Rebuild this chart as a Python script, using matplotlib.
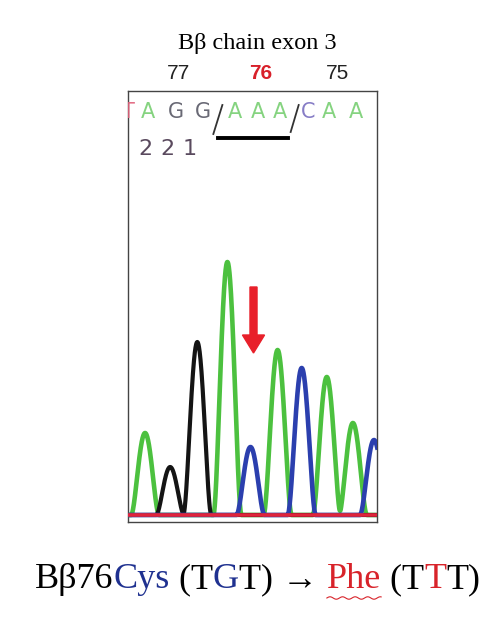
import numpy as np
import matplotlib
matplotlib.use("Agg")
import matplotlib.pyplot as plt

# ---- chromatogram data (scan units, intensity) ----
green_pos = [17, 99, 149, 198, 224]
green_amp = [82, 253, 165, 138, 92]
black_pos = [42, 69]
black_amp = [48, 173]
blue_pos = [122, 173, 245]
blue_amp = [68, 147, 75]

bases = "TAGGAAACAA"
base_pos = [0, 20, 48, 75, 107, 129, 151, 179, 200, 227]
base_col = {"T": "#e0607a", "A": "#78cf72", "G": "#595966", "C": "#7a6fc0"}

codon_labels = ["77", "76", "75"]
codon_x = [50, 132, 209]
codon_col = ["#222222", "#d8202a", "#222222"]

scan = np.linspace(0, 250, 1500)


def trace(pos, amp, half=14.0):
    # compact bell-shaped peaks, closer to the triangular look of the trace
    y = np.zeros_like(scan)
    for p, a in zip(pos, amp):
        u = np.clip(1 - ((scan - p) / half) ** 2, 0, None)
        y += a * u ** 2
    return y


fig = plt.figure(figsize=(4.99, 6.21), dpi=100)
ax = fig.add_axes([128 / 499, 1 - 522 / 621, 249 / 499, 431 / 621])
ax.set_xlim(0, 248)
ax.set_ylim(-7, 424)
ax.set_xticks([])
ax.set_yticks([])
for s in ax.spines.values():
    s.set_color("#444444")
    s.set_linewidth(1.0)

# traces, T channel (flat) on top as in the reference
ax.plot(scan, trace(green_pos, green_amp), color="#4cc13f", lw=3.3, zorder=3)
ax.plot(scan, trace(black_pos, black_amp), color="#141414", lw=3.0, zorder=4)
ax.plot(scan, trace(blue_pos, blue_amp), color="#2b3fae", lw=3.3, zorder=4)
ax.plot(scan, np.zeros_like(scan), color="#e0243a", lw=2.6, zorder=5)

# mutation arrow
ax.arrow(125, 228, 0, -66, width=7, head_width=22, head_length=18,
         length_includes_head=True, color="#e8202a", zorder=6)

# base calls
for b, x in zip(bases, base_pos):
    ax.text(x, 403, b, color=base_col[b], fontsize=15, family="DejaVu Sans",
            ha="center", va="center", alpha=0.9, clip_on=True)
ax.plot([85, 94], [381, 410], color="#333333", lw=1.3)
ax.plot([162, 170], [383, 410], color="#333333", lw=1.3)
ax.plot([90, 159], [377, 377], color="black", lw=2.8)
for i, ch in enumerate("221"):
    ax.text(17 + i * 22, 366, ch, color="#5a4a5e", fontsize=16,
            family="DejaVu Sans", ha="center", va="center")

# codon numbers above the box
for lab, x, c in zip(codon_labels, codon_x, codon_col):
    ax.text(x, 432, lab, color=c, fontsize=15, family="Liberation Sans",
            ha="center", va="bottom", fontweight="bold" if lab == "76" else "normal",
            clip_on=False)

fig.text(257 / 499, 1 - 49 / 621, "B\u03b2 chain exon 3", fontsize=17.5,
         family=["Liberation Serif", "DejaVu Serif"], ha="center", va="baseline")

# mutation caption, built piece by piece
pieces = [("B\u03b276", "black"), ("Cys", "#1f3190"), (" (T", "black"),
          ("G", "#1f3190"), ("T) \u2192 ", "black"), ("Phe", "#d8232a"),
          (" (T", "black"), ("T", "#d8232a"), ("T)", "black")]
fig.canvas.draw()
r = fig.canvas.get_renderer()
texts = []
x = 0
for s, c in pieces:
    t = fig.text(x, 1 - 588 / 621, s, color=c, fontsize=26,
                 family=["Liberation Serif", "DejaVu Serif"], va="baseline", ha="left")
    bb = t.get_window_extent(r)
    texts.append(t)
    x += bb.width / fig.bbox.width
shift = 257.5 / 499 - x / 2
for t in texts:
    px, py = t.get_position()
    t.set_position((px + shift, py))

# wavy underline under "Phe"
fig.canvas.draw()
bb = texts[5].get_window_extent(r)
wx = np.linspace(bb.x0, bb.x1, 120)
wy = bb.y0 - 2 + 1.2 * np.sin((wx - bb.x0) / 2.0)
fig.add_artist(plt.Line2D(wx / fig.bbox.width, wy / fig.bbox.height,
                          color="#d8232a", lw=0.8, transform=fig.transFigure))

fig.savefig("out.png", dpi=100, facecolor="white")
